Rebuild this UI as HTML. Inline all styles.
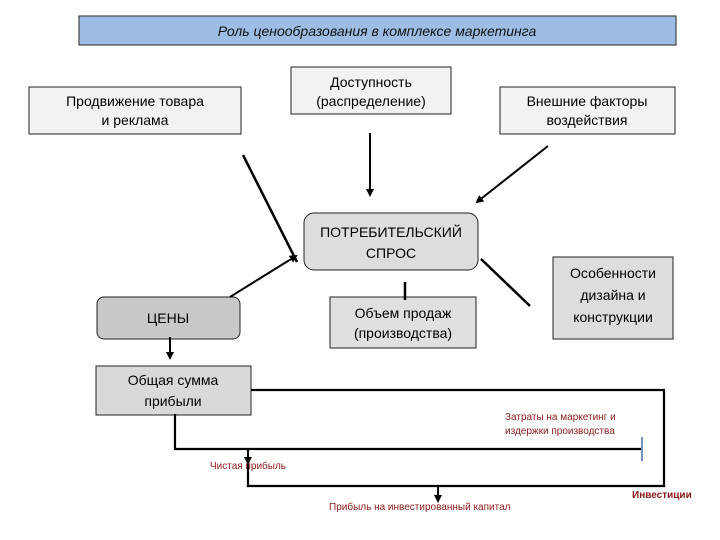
<!DOCTYPE html>
<html><head><meta charset="utf-8"><style>
body{margin:0;background:#fff;}
svg{display:block;font-family:"Liberation Sans","DejaVu Sans",sans-serif;}
</style></head><body>
<svg width="720" height="540" viewBox="0 0 720 540" xmlns="http://www.w3.org/2000/svg">
<defs><marker id="a" markerWidth="8" markerHeight="8" refX="6" refY="4" orient="auto" markerUnits="userSpaceOnUse"><path d="M0,0 L8,4 L0,8 z" fill="#000"/></marker></defs>
<rect x="79" y="16" width="597" height="29" fill="#9dbde5" stroke="#444" stroke-width="1.2"/>
<text x="377" y="36" font-size="14" font-style="italic" text-anchor="middle" fill="#111">Роль ценообразования в комплексе маркетинга</text>

<rect x="29" y="87" width="212" height="47" fill="#f2f2f2" stroke="#222"/>
<text x="135" y="106" font-size="14" text-anchor="middle">Продвижение товара</text>
<text x="135" y="125" font-size="14" text-anchor="middle">и реклама</text>

<rect x="291" y="67" width="160" height="47" fill="#f2f2f2" stroke="#222"/>
<text x="371" y="87" font-size="14" text-anchor="middle">Доступность</text>
<text x="371" y="106" font-size="14" text-anchor="middle">(распределение)</text>

<rect x="500" y="87" width="175" height="47" fill="#f2f2f2" stroke="#222"/>
<text x="587" y="106" font-size="14" text-anchor="middle">Внешние факторы</text>
<text x="587" y="125" font-size="14" text-anchor="middle">воздействия</text>

<rect x="304" y="213" width="174" height="57" rx="10" fill="#dddddd" stroke="#222"/>
<text x="391" y="237" font-size="14" text-anchor="middle">ПОТРЕБИТЕЛЬСКИЙ</text>
<text x="391" y="258" font-size="14" text-anchor="middle">СПРОС</text>

<rect x="97" y="297" width="143" height="42" rx="7" fill="#c8c8c8" stroke="#222"/>
<text x="168" y="323" font-size="14" text-anchor="middle">ЦЕНЫ</text>

<rect x="330" y="297" width="146" height="51" fill="#e0e0e0" stroke="#222"/>
<text x="403" y="318" font-size="14" text-anchor="middle">Объем продаж</text>
<text x="403" y="338" font-size="14" text-anchor="middle">(производства)</text>

<rect x="553" y="257" width="120" height="82" fill="#dddddd" stroke="#222"/>
<text x="613" y="278" font-size="14" text-anchor="middle">Особенности</text>
<text x="613" y="300" font-size="14" text-anchor="middle">дизайна и</text>
<text x="613" y="322" font-size="14" text-anchor="middle">конструкции</text>

<rect x="96" y="366" width="155" height="49" fill="#d9d9d9" stroke="#222"/>
<text x="173" y="385" font-size="14" text-anchor="middle">Общая сумма</text>
<text x="173" y="406" font-size="14" text-anchor="middle">прибыли</text>

<g stroke="#000" stroke-width="2.5" fill="none">
<line x1="243" y1="155" x2="297" y2="262"/>
<line x1="530" y1="306" x2="481" y2="259"/>
<line x1="405" y1="282" x2="405" y2="300"/>
</g>
<g stroke="#000" stroke-width="2" fill="none" marker-end="url(#a)">
<line x1="370" y1="133" x2="370" y2="195"/>
<line x1="548" y1="146" x2="477" y2="202"/>
<line x1="230" y1="297" x2="296" y2="256"/>
<line x1="170" y1="337" x2="170" y2="358"/>
</g>
<g stroke="#000" stroke-width="2.2" fill="none">
<polyline points="251,390 664,390 664,486 248,486 248,458"/>
<polyline points="175,414 175,449 641,449"/>
</g>
<g stroke="#000" stroke-width="2" marker-end="url(#a)">
<line x1="248" y1="449" x2="248" y2="463"/>
<line x1="438" y1="486" x2="438" y2="501"/>
</g>
<line x1="642" y1="437" x2="642" y2="461" stroke="#4a6fa5" stroke-width="1.5"/>
<g font-size="10" fill="#8b1a1a">
<text x="505" y="420">Затраты на маркетинг и</text>
<text x="505" y="434">издержки производства</text>
<text x="210" y="469">Чистая прибыль</text>
<text x="329" y="510">Прибыль на инвестированный капитал</text>
<text x="632" y="498" font-weight="bold">Инвестиции</text>
</g>
</svg>
</body></html>
